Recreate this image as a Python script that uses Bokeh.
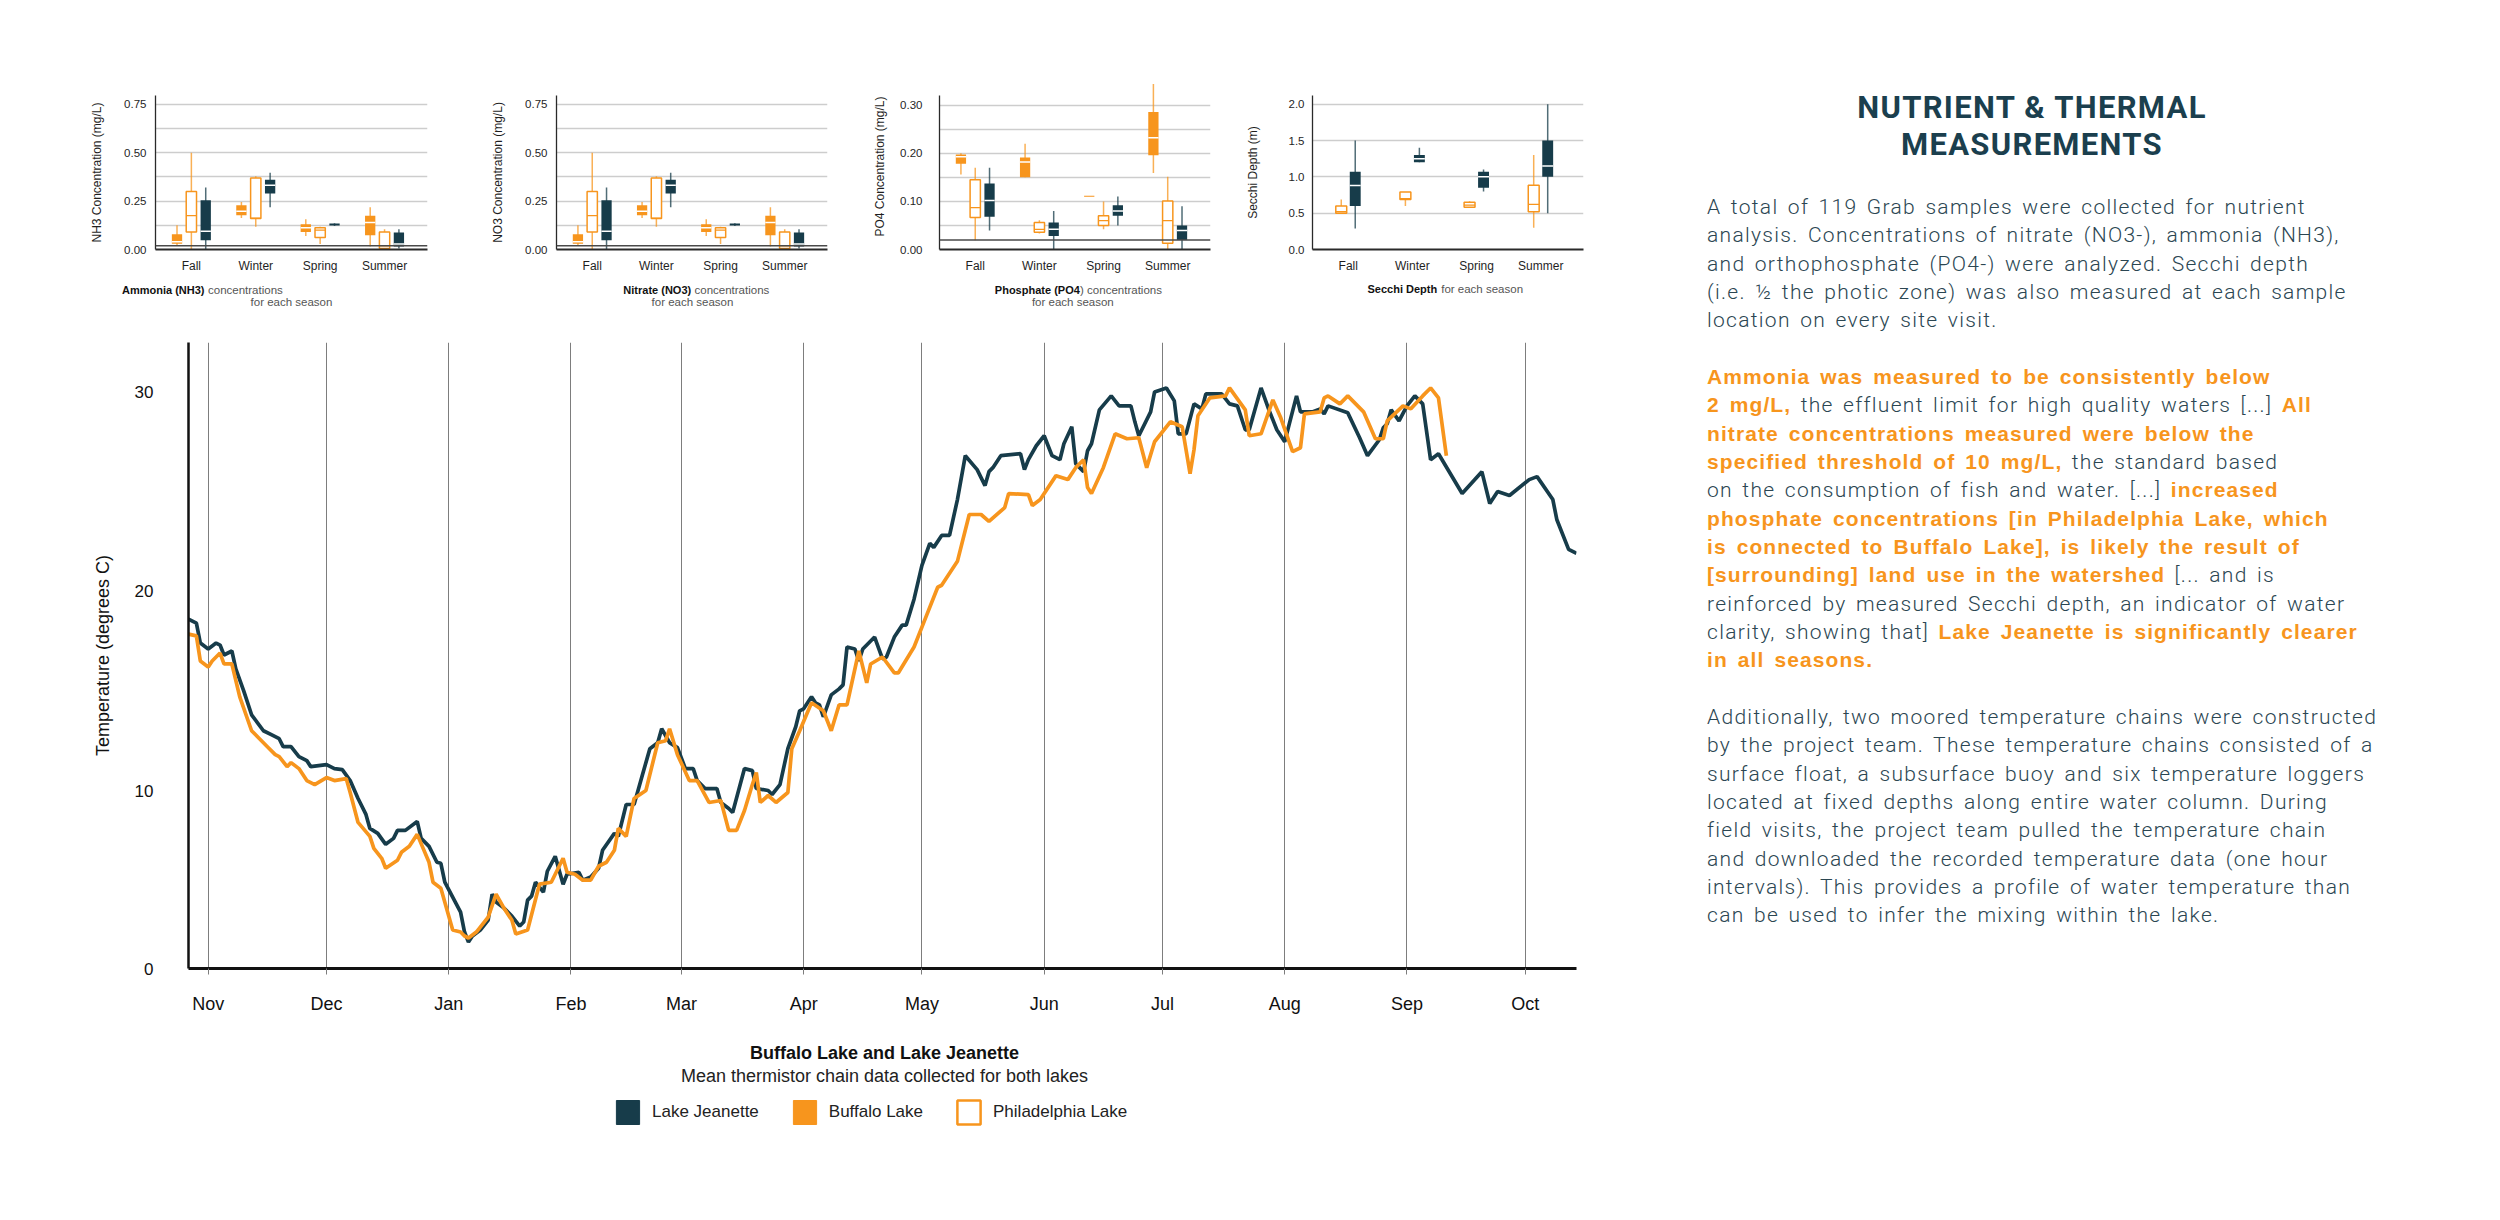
import pandas as pd
from bokeh.plotting import figure
from bokeh.models import (ColumnDataSource, FixedTicker, Span, Legend, LegendItem,
                          Div, DatetimeTickFormatter, Range1d, NumeralTickFormatter)
from bokeh.core.properties import value
from bokeh.layouts import row, column
from bokeh.embed import file_html
from bokeh.resources import INLINE

NAVY = "#173c4a"
ORANGE = "#f7951d"
FONT = "Liberation Sans"
TXT = "#1f1f1f"

# ---------------------------------------------------------------- data
seasons = ["Fall", "Winter", "Spring", "Summer"]

# five-number summaries per season: (low whisker, Q1, median, Q3, high whisker)
nh3_buffalo = [(0.019, 0.03, 0.04, 0.079, 0.125), (0.163, 0.177, 0.198, 0.229, 0.246),
               (0.07, 0.091, 0.112, 0.131, 0.156), (0.015, 0.074, 0.139, 0.174, 0.218)]
nh3_philadelphia = [(0.0, 0.09, 0.175, 0.30, 0.50), (0.118, 0.16, 0.162, 0.369, 0.378),
                    (0.029, 0.062, 0.10, 0.112, 0.117), (0.005, 0.005, 0.019, 0.091, 0.105)]
nh3_jeanette = [(0.0, 0.048, 0.094, 0.254, 0.32), (0.218, 0.289, 0.332, 0.361, 0.397),
                (0.122, 0.124, 0.129, 0.134, 0.136), (0.005, 0.015, 0.029, 0.088, 0.105)]

no3_buffalo = [(0.019, 0.03, 0.04, 0.079, 0.125), (0.163, 0.177, 0.198, 0.229, 0.246),
               (0.07, 0.091, 0.112, 0.131, 0.156), (0.015, 0.074, 0.139, 0.174, 0.218)]
no3_philadelphia = [(0.0, 0.09, 0.175, 0.30, 0.50), (0.118, 0.16, 0.162, 0.369, 0.378),
                    (0.029, 0.062, 0.10, 0.112, 0.117), (0.005, 0.005, 0.019, 0.091, 0.105)]
no3_jeanette = [(0.0, 0.048, 0.094, 0.254, 0.32), (0.218, 0.289, 0.332, 0.361, 0.397),
                (0.122, 0.124, 0.129, 0.134, 0.136), (0.005, 0.015, 0.029, 0.088, 0.105)]

po4_buffalo = [(0.156, 0.178, 0.193, 0.1975, 0.20), (0.15, 0.15, 0.182, 0.191, 0.22),
               (0.11, 0.1095, 0.11, 0.1115, 0.11), (0.159, 0.196, 0.232, 0.286, 0.344)]
po4_philadelphia = [(0.019, 0.0665, 0.087, 0.145, 0.17), (0.033, 0.036, 0.042, 0.056, 0.061),
                    (0.042, 0.05, 0.06, 0.07, 0.10), (0.0, 0.013, 0.06, 0.101, 0.151)]
po4_jeanette = [(0.0395, 0.068, 0.102, 0.137, 0.17), (0.0, 0.028, 0.042, 0.056, 0.08),
                (0.05, 0.07, 0.08, 0.092, 0.11), (0.0, 0.02, 0.0395, 0.05, 0.09)]

secchi_philadelphia = [(0.5, 0.5, 0.52, 0.6, 0.69), (0.6, 0.69, 0.70, 0.79, 0.79),
                       (0.58, 0.58, 0.61, 0.65, 0.665), (0.30, 0.52, 0.62, 0.885, 1.30)]
secchi_jeanette = [(0.29, 0.6, 0.88, 1.07, 1.5), (1.2, 1.2, 1.25, 1.30, 1.40),
                   (0.80, 0.85, 1.0, 1.07, 1.10), (0.5, 1.0, 1.15, 1.5, 2.0)]

month_starts = ["2018-11-01", "2018-12-01", "2019-01-01", "2019-02-01", "2019-03-01", "2019-04-01",
                "2019-05-01", "2019-06-01", "2019-07-01", "2019-08-01", "2019-09-01", "2019-10-01"]

jeanette_dates = [
    "2018-10-27", "2018-10-29", "2018-10-30", "2018-11-01", "2018-11-03", "2018-11-04", "2018-11-05",
    "2018-11-07", "2018-11-08", "2018-11-10", "2018-11-12", "2018-11-15", "2018-11-17", "2018-11-19",
    "2018-11-20", "2018-11-22", "2018-11-24", "2018-11-26", "2018-11-27",
    "2018-12-01", "2018-12-03", "2018-12-05", "2018-12-07", "2018-12-09", "2018-12-11", "2018-12-12",
    "2018-12-14", "2018-12-16", "2018-12-18", "2018-12-19", "2018-12-21", "2018-12-24", "2018-12-25",
    "2018-12-27", "2018-12-29", "2018-12-30", "2018-12-31",
    "2019-01-04", "2019-01-05", "2019-01-06", "2019-01-07", "2019-01-09", "2019-01-11", "2019-01-12",
    "2019-01-13", "2019-01-15", "2019-01-17", "2019-01-19", "2019-01-20", "2019-01-21", "2019-01-22",
    "2019-01-23", "2019-01-25", "2019-01-26", "2019-01-28", "2019-01-30", "2019-01-31",
    "2019-02-03", "2019-02-04", "2019-02-06", "2019-02-08", "2019-02-09", "2019-02-12", "2019-02-13",
    "2019-02-15", "2019-02-17", "2019-02-19", "2019-02-21", "2019-02-23", "2019-02-24", "2019-02-26",
    "2019-02-28",
    "2019-03-02", "2019-03-04", "2019-03-05", "2019-03-07", "2019-03-10", "2019-03-11", "2019-03-13",
    "2019-03-14", "2019-03-17", "2019-03-19", "2019-03-20", "2019-03-23", "2019-03-24", "2019-03-26",
    "2019-03-28", "2019-03-30", "2019-03-31",
    "2019-04-01", "2019-04-03", "2019-04-04", "2019-04-05", "2019-04-06", "2019-04-08", "2019-04-10",
    "2019-04-11", "2019-04-12", "2019-04-14", "2019-04-15", "2019-04-16", "2019-04-19", "2019-04-21",
    "2019-04-22", "2019-04-24", "2019-04-26", "2019-04-27", "2019-04-29",
    "2019-05-01", "2019-05-03", "2019-05-04", "2019-05-06", "2019-05-08", "2019-05-10", "2019-05-12",
    "2019-05-15", "2019-05-17", "2019-05-18", "2019-05-19", "2019-05-21", "2019-05-26", "2019-05-27",
    "2019-05-28", "2019-05-30",
    "2019-06-01", "2019-06-03", "2019-06-05", "2019-06-06", "2019-06-08", "2019-06-09", "2019-06-11",
    "2019-06-12", "2019-06-13", "2019-06-15", "2019-06-18", "2019-06-20", "2019-06-23", "2019-06-24",
    "2019-06-25", "2019-06-28", "2019-06-29",
    "2019-07-02", "2019-07-04", "2019-07-05", "2019-07-07", "2019-07-09", "2019-07-11", "2019-07-12",
    "2019-07-16", "2019-07-18", "2019-07-20", "2019-07-22", "2019-07-23", "2019-07-26", "2019-07-28",
    "2019-07-30",
    "2019-08-01", "2019-08-04", "2019-08-05", "2019-08-08", "2019-08-10", "2019-08-11", "2019-08-12",
    "2019-08-17", "2019-08-20", "2019-08-22", "2019-08-25", "2019-08-26", "2019-08-27", "2019-08-28",
    "2019-08-30",
    "2019-09-01", "2019-09-03", "2019-09-05", "2019-09-07", "2019-09-09", "2019-09-15", "2019-09-20",
    "2019-09-22", "2019-09-24", "2019-09-27",
    "2019-10-02", "2019-10-04", "2019-10-08", "2019-10-09", "2019-10-12", "2019-10-14"]
jeanette_temp = [
    18.6, 18.4, 17.4, 17.1, 17.4, 17.3, 16.8, 17.0, 16.1, 15.0, 13.8, 13.0, 12.8, 12.6, 12.2, 12.2, 11.7, 11.5, 11.2,
    11.3, 11.1, 11.05, 10.5, 9.6, 8.8, 8.1, 7.85, 7.3, 7.6, 8.0, 8.0, 8.45, 7.6, 7.2, 6.4, 6.35, 5.4,
    3.9, 2.9, 2.4, 2.7, 3.0, 3.5, 4.8, 4.4, 4.1, 3.7, 3.2, 3.4, 4.5, 4.7, 5.4, 4.9, 5.95, 6.7, 5.3, 5.8,
    5.9, 5.5, 5.66, 6.1, 7.0, 7.85, 7.7, 9.3, 9.3, 10.7, 12.1, 12.4, 13.1, 12.4, 12.15,
    11.1, 11.1, 10.5, 10.1, 10.1, 9.4, 9.1, 8.9, 11.1, 11.0, 10.1, 10.0, 9.8, 10.3, 12.1, 13.2, 14.0,
    14.1, 14.7, 14.4, 14.3, 13.7, 14.8, 15.1, 15.3, 17.2, 17.1, 16.5, 17.1, 17.7, 16.6, 16.7, 17.7, 18.3, 18.3, 19.6,
    21.3, 22.4, 22.2, 22.8, 22.8, 24.6, 26.8, 26.1, 25.3, 26.0, 26.2, 26.8, 26.9, 26.1, 26.6, 27.3,
    27.8, 26.8, 26.6, 27.4, 28.25, 26.4, 26.0, 27.05, 27.4, 29.1, 29.8, 29.3, 29.3, 28.5, 27.8, 29.0, 30.0,
    30.2, 29.55, 27.9, 27.9, 29.4, 29.15, 29.9, 29.9, 29.4, 29.3, 28.1, 28.1, 30.2, 29.1, 28.1,
    27.5, 29.8, 29.0, 29.0, 29.15, 28.9, 29.3, 28.95, 27.7, 26.8, 27.6, 28.2, 28.4, 29.1, 28.55,
    29.3, 29.8, 29.4, 26.6, 26.9, 24.9, 26.0, 24.4, 25.0, 24.8,
    25.6, 25.75, 24.6, 23.6, 22.1, 21.9]

buffalo_dates = [
    "2018-10-27", "2018-10-29", "2018-10-30", "2018-11-01", "2018-11-02", "2018-11-04", "2018-11-05",
    "2018-11-07", "2018-11-09", "2018-11-12", "2018-11-14", "2018-11-16", "2018-11-18", "2018-11-19",
    "2018-11-21", "2018-11-22", "2018-11-24", "2018-11-25", "2018-11-26", "2018-11-28",
    "2018-12-01", "2018-12-03", "2018-12-06", "2018-12-07", "2018-12-09", "2018-12-12", "2018-12-13",
    "2018-12-15", "2018-12-16", "2018-12-19", "2018-12-20", "2018-12-22", "2018-12-24", "2018-12-27",
    "2018-12-28", "2018-12-30",
    "2019-01-02", "2019-01-04", "2019-01-05", "2019-01-06", "2019-01-08", "2019-01-11", "2019-01-13",
    "2019-01-15", "2019-01-17", "2019-01-18", "2019-01-21", "2019-01-24", "2019-01-27", "2019-01-30",
    "2019-01-31",
    "2019-02-02", "2019-02-04", "2019-02-06", "2019-02-08", "2019-02-10", "2019-02-12", "2019-02-13",
    "2019-02-15", "2019-02-17", "2019-02-20", "2019-02-23", "2019-02-25", "2019-02-26", "2019-02-28",
    "2019-03-03", "2019-03-05", "2019-03-08", "2019-03-11", "2019-03-13", "2019-03-15", "2019-03-17",
    "2019-03-19", "2019-03-20", "2019-03-21", "2019-03-23", "2019-03-25", "2019-03-28", "2019-03-29",
    "2019-03-31",
    "2019-04-03", "2019-04-06", "2019-04-08", "2019-04-10", "2019-04-12", "2019-04-15", "2019-04-17",
    "2019-04-18", "2019-04-21", "2019-04-24", "2019-04-25", "2019-04-29",
    "2019-05-02", "2019-05-05", "2019-05-06", "2019-05-10", "2019-05-13", "2019-05-16", "2019-05-18",
    "2019-05-22", "2019-05-23", "2019-05-28", "2019-05-29", "2019-05-31",
    "2019-06-04", "2019-06-07", "2019-06-09", "2019-06-11", "2019-06-12", "2019-06-13", "2019-06-16",
    "2019-06-19", "2019-06-22", "2019-06-25", "2019-06-27", "2019-06-29",
    "2019-07-03", "2019-07-06", "2019-07-08", "2019-07-09", "2019-07-10", "2019-07-13", "2019-07-17",
    "2019-07-18", "2019-07-22", "2019-07-23", "2019-07-26", "2019-07-29", "2019-07-31",
    "2019-08-03", "2019-08-05", "2019-08-06", "2019-08-10", "2019-08-11", "2019-08-12", "2019-08-15",
    "2019-08-17", "2019-08-21", "2019-08-24", "2019-08-26", "2019-08-27", "2019-08-31",
    "2019-09-02", "2019-09-05", "2019-09-07", "2019-09-09", "2019-09-11"]
buffalo_temp = [
    17.85, 17.76, 16.5, 16.2, 16.5, 16.9, 16.35, 16.35, 14.7, 13.0, 12.6, 12.2, 11.8, 11.7, 11.2, 11.4, 11.1, 10.8, 10.5, 10.3,
    10.65, 10.5, 10.6, 9.9, 8.4, 7.7, 7.1, 6.6, 6.1, 6.5, 6.9, 7.2, 7.8, 6.4, 5.4, 5.1,
    3.0, 2.9, 2.7, 2.6, 2.9, 3.65, 4.8, 4.1, 3.5, 2.8, 3.0, 5.3, 5.4, 6.6, 5.9,
    5.8, 5.5, 5.5, 6.2, 6.4, 7.0, 8.1, 7.7, 9.6, 10.0, 12.4, 12.5, 13.1, 11.8,
    10.5, 10.5, 9.4, 9.5, 8.0, 8.0, 9.0, 10.3, 10.9, 9.4, 9.75, 9.4, 9.9, 12.1, 13.0,
    14.4, 14.0, 13.0, 14.3, 14.3, 17.0, 15.4, 16.35, 16.7, 15.9, 15.9, 17.2,
    18.7, 20.2, 20.3, 21.5, 23.85, 23.85, 23.5, 24.2, 24.9, 24.85, 24.3, 24.6,
    25.8, 25.6, 26.2, 26.6, 25.2, 24.9, 26.2, 27.9, 27.65, 27.7, 26.2, 27.5,
    28.5, 28.25, 25.9, 27.1, 28.8, 29.7, 29.8, 30.2, 29.1, 27.8, 27.9, 29.6, 28.7,
    27.0, 27.2, 28.9, 29.0, 29.7, 29.8, 29.4, 29.8, 29.0, 27.65, 27.65, 28.55, 29.3,
    29.15, 29.8, 30.2, 29.7, 26.8]

# ---------------------------------------------------------------- small box charts
XS, XE = -0.557, 3.667
ROW_H = 278


def add_boxes(p, stats, offset, width, kind, ymax, fh):
    xs = [i + offset for i in range(len(stats))]
    d = dict(x=xs, left=[x - width / 2 for x in xs], right=[x + width / 2 for x in xs],
             lo=[s[0] for s in stats], q1=[s[1] for s in stats], med=[s[2] for s in stats],
             q3=[s[3] for s in stats], hi=[s[4] for s in stats])
    src = ColumnDataSource(d)
    wc = NAVY if kind == "navy" else ORANGE
    p.segment(x0="x", y0="lo", x1="x", y1="hi", source=src, line_color=wc, line_alpha=0.75, line_width=1.5)
    keep = [i for i, s in enumerate(stats) if (s[3] - s[1]) / ymax * fh >= 2.5]
    msrc = ColumnDataSource(dict(left=[d["left"][i] for i in keep], right=[d["right"][i] for i in keep],
                                 med=[d["med"][i] for i in keep]))
    if kind == "hollow":
        p.quad(left="left", right="right", bottom="q1", top="q3", source=src,
               fill_color="white", line_color=ORANGE, line_width=1.5)
        p.segment(x0="left", y0="med", x1="right", y1="med", source=msrc, line_color=ORANGE, line_width=1.3)
    else:
        fill = NAVY if kind == "navy" else ORANGE
        p.quad(left="left", right="right", bottom="q1", top="q3", source=src,
               fill_color=fill, line_color=None)
        p.segment(x0="left", y0="med", x1="right", y1="med", source=msrc, line_color="white", line_width=1.5)


def box_chart(spec):
    fw, fh, ymax = spec["fw"], spec["fh"], spec["ymax"]
    p = figure(frame_width=fw, frame_height=fh,
               min_border_left=spec["bl"], min_border_right=spec["w"] - spec["bl"] - fw,
               min_border_top=spec["bt"], min_border_bottom=ROW_H - spec["bt"] - fh,
               x_range=Range1d(XS, XE), y_range=Range1d(0, ymax),
               toolbar_location=None, output_backend="svg", frame_align=False)
    p.outline_line_color = None
    p.xgrid.visible = False
    p.ygrid.ticker = FixedTicker(ticks=spec["grid"])
    p.ygrid.grid_line_color = "#cdcdcd"
    p.ygrid.grid_line_width = 1.5
    if spec.get("ref") is not None:
        p.add_layout(Span(location=spec["ref"], dimension="width", line_color="#4a4a4a", line_width=1.5))

    for stats, off, wid, kind in spec["series"]:
        add_boxes(p, stats, off, wid, kind, ymax, fh)

    xa = p.xaxis[0]
    xa.ticker = FixedTicker(ticks=list(range(len(seasons))))
    xa.major_label_overrides = {i: s for i, s in enumerate(seasons)}
    xa.major_tick_line_color = None
    xa.minor_tick_line_color = None
    xa.major_tick_out = 0
    xa.major_tick_in = 0
    xa.minor_tick_out = 0
    xa.axis_line_color = "#2a2a2a"
    xa.axis_line_width = 1.8
    xa.major_label_standoff = 9
    xa.major_label_text_font = FONT
    xa.major_label_text_font_size = "12px"
    xa.major_label_text_color = TXT

    ya = p.yaxis[0]
    ya.ticker = FixedTicker(ticks=spec["ticks"])
    ya.formatter = NumeralTickFormatter(format=spec["fmt"])
    ya.major_tick_line_color = None
    ya.minor_tick_line_color = None
    ya.major_tick_out = 0
    ya.major_tick_in = 0
    ya.minor_tick_out = 0
    ya.axis_line_color = "#2a2a2a"
    ya.axis_line_width = 1.3
    if spec.get("bounds"):
        ya.bounds = spec["bounds"]
    ya.major_label_standoff = spec["tstand"]
    ya.major_label_text_font = FONT
    ya.major_label_text_font_size = "11.5px"
    ya.major_label_text_color = TXT
    ya.axis_label = spec["ylabel"]
    ya.axis_label_text_font = FONT
    ya.axis_label_text_font_size = "12px"
    ya.axis_label_text_font_style = "normal"
    ya.axis_label_text_color = TXT
    ya.axis_label_standoff = spec["lstand"]
    return p


OFF3, W3 = 0.223, 0.16
specs = [
    dict(w=478, bl=155, fw=272, bt=95, fh=154, ymax=0.796,
         grid=[0.125, 0.25, 0.375, 0.5, 0.625, 0.75], ticks=[0, 0.25, 0.5, 0.75], fmt="0.00",
         ylabel="NH3 Concentration (mg/L)", tstand=9, lstand=17, ref=0.02,
         series=[(nh3_buffalo, -OFF3, W3, "filled"), (nh3_philadelphia, 0, W3, "hollow"),
                 (nh3_jeanette, OFF3, W3, "navy")]),
    dict(w=392, bl=78, fw=271, bt=95, fh=154, ymax=0.796,
         grid=[0.125, 0.25, 0.375, 0.5, 0.625, 0.75], ticks=[0, 0.25, 0.5, 0.75], fmt="0.00",
         ylabel="NO3 Concentration (mg/L)", tstand=9, lstand=17, ref=0.02,
         series=[(no3_buffalo, -OFF3, W3, "filled"), (no3_philadelphia, 0, W3, "hollow"),
                 (no3_jeanette, OFF3, W3, "navy")]),
    dict(w=370, bl=67, fw=271, bt=83, fh=166, ymax=0.345,
         grid=[0.05, 0.10, 0.15, 0.20, 0.25, 0.30], ticks=[0, 0.1, 0.2, 0.3], fmt="0.00",
         ylabel="PO4 Concentration (mg/L)", tstand=17, lstand=10, ref=0.02, bounds=(0, 0.321),
         series=[(po4_buffalo, -OFF3, W3, "filled"), (po4_philadelphia, 0, W3, "hollow"),
                 (po4_jeanette, OFF3, W3, "navy")]),
    dict(w=360, bl=67, fw=271, bt=95, fh=154, ymax=2.12,
         grid=[0.5, 1.0, 1.5, 2.0], ticks=[0, 0.5, 1.0, 1.5, 2.0], fmt="0.0",
         ylabel="Secchi Depth (m)", tstand=8, lstand=26, ref=None,
         series=[(secchi_philadelphia, -0.109, 0.17, "hollow"), (secchi_jeanette, 0.109, 0.17, "navy")]),
]
small = [box_chart(s) for s in specs]


def blank_fig(width, top, bottom):
    """figure whose data coordinates are page pixels (x right, y down)"""
    f = figure(frame_width=width, frame_height=bottom - top, min_border=0,
               x_range=Range1d(0, width), y_range=Range1d(bottom, top),
               x_axis_location=None, y_axis_location=None,
               toolbar_location=None, output_backend="svg", frame_align=False)
    f.outline_line_color = None
    f.xgrid.visible = False
    f.ygrid.visible = False
    return f


def put_text(f, x, y, text, align, size, bold=False, color="#555555"):
    f.text(x=[x], y=[y], text=[text], text_align=align, text_baseline="middle",
           text_font=value(FONT), text_font_size=size,
           text_font_style="bold" if bold else "normal", text_color=color)


# captions under the box charts (positions in page pixels)
CAP_TOP, CAP_BOT = ROW_H, 310
captions = [
    ("Ammonia (NH3)", "concentrations", 204, 207.5, "for each season", 291),
    ("Nitrate (NO3)", "concentrations", 690.7, 694, "for each season", 692),
    ("Phosphate (PO4", ") concentrations", 1079.3, 1079.6, "for each season", 1072.3),
    ("Secchi Depth", "for each season", 1436.7, 1440.7, None, None),
]
capfig = blank_fig(1600, CAP_TOP, CAP_BOT)
for bold_t, rest_t, xb, xr, l2, cx in captions:
    y1 = 289 if l2 else 288.3
    put_text(capfig, xb, y1, bold_t, "right", "11px", bold=True, color="#111111")
    put_text(capfig, xr, y1, rest_t, "left", "11.5px")
    if l2:
        put_text(capfig, cx, 301, l2, "center", "11.5px")

# ---------------------------------------------------------------- main temperature chart
def ms(d):
    return pd.Timestamp(d).value // 10**6


X0, X1 = ms("2018-10-27"), ms("2019-10-14")
Y0, Y1 = 1.07, 32.48
MAIN_BOT = 1021

main = figure(frame_width=1388, frame_height=626, min_border_left=188, min_border_right=24,
              min_border_top=342 - CAP_BOT, min_border_bottom=MAIN_BOT - 968, x_axis_type="datetime",
              x_range=Range1d(X0, X1), y_range=Range1d(Y0, Y1),
              toolbar_location=None, output_backend="svg", frame_align=False)
main.outline_line_color = None
main.ygrid.visible = False
mticks = [ms(d) for d in month_starts]
main.xgrid.ticker = FixedTicker(ticks=mticks)
main.xgrid.grid_line_color = "#7d7d7d"
main.xgrid.grid_line_width = 1

main.line(x=pd.to_datetime(jeanette_dates), y=jeanette_temp, line_color=NAVY, line_width=3.7)
main.line(x=pd.to_datetime(buffalo_dates), y=buffalo_temp, line_color=ORANGE, line_width=3.7)

xa = main.xaxis[0]
xa.ticker = FixedTicker(ticks=mticks)
xa.formatter = DatetimeTickFormatter(years="%b", months="%b", days="%b", hours="%b",
                                     hourmin="%b", minutes="%b", minsec="%b", seconds="%b",
                                     milliseconds="%b", microseconds="%b")
xa.minor_tick_line_color = None
xa.minor_tick_out = 0
xa.major_tick_in = 0
xa.major_tick_out = 6
xa.major_tick_line_color = "#7d7d7d"
xa.axis_line_color = "#111111"
xa.axis_line_width = 3
xa.major_label_standoff = 19
xa.major_label_text_font = FONT
xa.major_label_text_font_size = "18px"
xa.major_label_text_color = "#111111"

ya = main.yaxis[0]
ya.ticker = FixedTicker(ticks=[Y0, 10, 20, 30])
ya.major_label_overrides = {Y0: "0", 10: "10", 20: "20", 30: "30"}
ya.major_tick_line_color = None
ya.minor_tick_line_color = None
ya.major_tick_out = 0
ya.major_tick_in = 0
ya.minor_tick_out = 0
ya.axis_line_color = "#111111"
ya.axis_line_width = 2.5
ya.major_label_standoff = 35
ya.major_label_text_font = FONT
ya.major_label_text_font_size = "17px"
ya.major_label_text_color = "#111111"
ya.axis_label = "Temperature (degrees C)"
ya.axis_label_text_font = FONT
ya.axis_label_text_font_size = "18px"
ya.axis_label_text_font_style = "normal"
ya.axis_label_text_color = "#111111"
ya.axis_label_standoff = 19

# title, subtitle and legend under the main chart
BOT_END = 1150
botfig = blank_fig(1600, MAIN_BOT, BOT_END)
put_text(botfig, 884, 1052, "Buffalo Lake and Lake Jeanette", "center", "18px", bold=True, color="#111111")
put_text(botfig, 884, 1075, "Mean thermistor chain data collected for both lakes", "center", "18px",
         color="#222222")
NAN = [float("nan")]
r_j = botfig.quad(left=NAN, right=NAN, top=NAN, bottom=NAN, fill_color=NAVY, line_color=NAVY)
r_b = botfig.quad(left=NAN, right=NAN, top=NAN, bottom=NAN, fill_color=ORANGE, line_color=ORANGE)
r_p = botfig.quad(left=NAN, right=NAN, top=NAN, bottom=NAN, fill_color="white", line_color=ORANGE,
                  line_width=2.5)
legend = Legend(items=[LegendItem(label="Lake Jeanette", renderers=[r_j]),
                       LegendItem(label="Buffalo Lake", renderers=[r_b]),
                       LegendItem(label="Philadelphia Lake", renderers=[r_p])],
                location=(613, BOT_END - 1127), orientation="horizontal",
                glyph_width=29, glyph_height=30, label_height=30, label_standoff=10, spacing=31,
                padding=0, margin=0, border_line_color=None, background_fill_alpha=0,
                label_text_font=FONT, label_text_font_size="17px", label_text_color="#222222")
botfig.add_layout(legend)

# ---------------------------------------------------------------- text panel
title_text = "NUTRIENT &amp; THERMAL<br>MEASUREMENTS"
para1 = [
    [("A total of 119 Grab samples were collected for nutrient", False)],
    [("analysis. Concentrations of nitrate (NO3-), ammonia (NH3),", False)],
    [("and orthophosphate (PO4-) were analyzed. Secchi depth", False)],
    [("(i.e. ½ the photic zone) was also measured at each sample", False)],
    [("location on every site visit.", False)],
]
para2 = [
    [("Ammonia was measured to be consistently below", True)],
    [("2 mg/L,", True), (" the effluent limit for high quality waters [...] ", False), ("All", True)],
    [("nitrate concentrations measured were below the", True)],
    [("specified threshold of 10 mg/L,", True), (" the standard based", False)],
    [("on the consumption of fish and water. [...] ", False), ("increased", True)],
    [("phosphate concentrations [in Philadelphia Lake, which", True)],
    [("is connected to Buffalo Lake], is likely the result of", True)],
    [("[surrounding] land use in the watershed", True), (" [... and is", False)],
    [("reinforced by measured Secchi depth, an indicator of water", False)],
    [("clarity, showing that] ", False), ("Lake Jeanette is significantly clearer", True)],
    [("in all seasons.", True)],
]
para3 = [
    [("Additionally, two moored temperature chains were constructed", False)],
    [("by the project team. These temperature chains consisted of a", False)],
    [("surface float, a subsurface buoy and six temperature loggers", False)],
    [("located at fixed depths along entire water column. During", False)],
    [("field visits, the project team pulled the temperature chain", False)],
    [("and downloaded the recorded temperature data (one hour", False)],
    [("intervals). This provides a profile of water temperature than", False)],
    [("can be used to infer the mixing within the lake.", False)],
]

LH = "28.33px"


def line_html(segs):
    parts = []
    for t, hi in segs:
        if hi:
            parts.append(f'<span style="color:{ORANGE};font-family:\'Liberation Sans\',sans-serif;'
                         f'font-weight:700;letter-spacing:1.1px">{t}</span>')
        else:
            parts.append(t)
    return (f'<div style="height:{LH};line-height:{LH};white-space:pre">' + "".join(parts) + "</div>")


body = []
for i, para in enumerate([para1, para2, para3]):
    if i:
        body.append(f'<div style="height:{LH}"></div>')
    body.extend(line_html(s) for s in para)

html = (
    '<div style="box-sizing:content-box;margin:0;padding:89px 0 0 102px;width:650px;'
    'font-family:Roboto,\'Liberation Sans\',sans-serif;color:#2b4652;">'
    '<div style="box-sizing:content-box;width:650px;text-align:center;font-size:31px;line-height:37px;'
    f'font-weight:700;color:#1b3f4e;letter-spacing:1.3px;white-space:nowrap">{title_text}</div>'
    '<div style="margin-top:30px;font-size:21px;font-weight:300;letter-spacing:1.3px;word-spacing:3px">'
    + "".join(body) + "</div></div>"
)
panel = Div(text=html, width=800, height=1000, margin=0)

layout = row(column(row(*small), capfig, main, botfig), panel)

with open("out.html", "w", encoding="utf-8") as f:
    f.write(file_html(layout, INLINE))
